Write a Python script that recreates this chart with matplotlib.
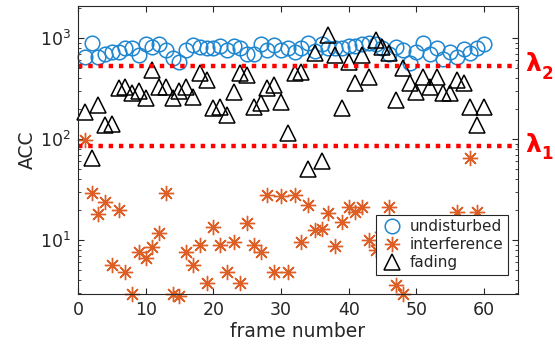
import numpy as np
import matplotlib
matplotlib.use("Agg")
import matplotlib.pyplot as plt

frames = list(range(1, 61))

undisturbed = [650, 890, 650, 700, 720, 730, 790, 800, 680, 880,
               820, 880, 760, 640, 580, 760, 850, 820, 800, 800,
               830, 760, 830, 790, 700, 690, 880, 760, 850, 760,
               800, 730, 800, 900, 740, 880, 800, 800, 790, 830,
               830, 870, 900, 880, 790, 700, 810, 760, 560, 720,
               900, 700, 800, 620, 720, 650, 780, 710, 800, 880]

interference = [97, 29, 18, 24, 5.6, 20, 4.8, 2.9, 7.6, 6.6,
                8.5, 11.7, 29, 2.9, 2.8, 7.6, 5.6, 8.9, 3.8, 13.5,
                8.9, 4.8, 9.6, 3.8, 14.7, 8.9, 7.6, 28, 4.8, 27,
                4.8, 28, 9.6, 22, 12.6, 13, 18.5, 8.7, 15, 21,
                19, 21, 10, 8, 12, 21, 3.6, 2.9, 10, 7,
                12, 9, 6, 11, 8, 19, 10, 65, 19, 8]

fading = [185, 65, 217, 138, 142, 320, 330, 285, 300, 255,
          482, 330, 330, 255, 300, 330, 260, 450, 384, 203,
          207, 172, 292, 450, 430, 207, 227, 320, 340, 232,
          115, 450, 460, 50, 710, 60, 1070, 680, 203, 580,
          358, 680, 410, 955, 815, 710, 243, 505, 358, 292,
          410, 330, 410, 285, 285, 384, 358, 207, 138, 207]

lambda1 = 85
lambda2 = 530

txt = '#262626'
plt.rcParams['font.family'] = 'DejaVu Sans'

fig = plt.figure(figsize=(5.55, 3.48), dpi=100)
ax = fig.add_axes([0.1405, 0.155, 0.7925, 0.828])

ax.plot(frames, undisturbed, linestyle='none', marker='o', ms=10.5,
        mfc='none', mec='#1f86d0', mew=1.1, label='undisturbed', clip_on=False)
ax.plot(frames, interference, linestyle='none', marker=(8, 2, 0), ms=11,
        mec='#DE5F26', mew=1.0, label='interference', clip_on=False)
ax.plot(frames, fading, linestyle='none', marker='^', ms=11.5,
        mfc='none', mec='black', mew=1.1, label='fading', clip_on=False)

ax.axhline(lambda2, color='red', ls=(0, (1, 1.3)), lw=3.2)
ax.axhline(lambda1, color='red', ls=(0, (1, 1.3)), lw=3.2)

ax.set_yscale('log')
ax.set_xlim(0, 65)
ax.set_ylim(2.92, 2075)
ax.set_xticks([0, 10, 20, 30, 40, 50, 60])
ax.tick_params(which='both', direction='in', top=True, right=True,
               colors=txt, labelsize=12.5, pad=5)
ax.tick_params(which='major', length=4)
ax.tick_params(which='minor', length=2.5)
for s in ax.spines.values():
    s.set_color(txt)
    s.set_linewidth(0.8)

ax.set_xlabel('frame number', fontsize=13.5, color=txt, labelpad=2)
ax.set_ylabel('ACC', fontsize=13.5, color=txt, labelpad=2)

# lambda labels on the right side
for val, sub in [(lambda2, '2'), (lambda1, '1')]:
    ax.annotate('λ', xy=(1.0, val), xycoords=('axes fraction', 'data'),
                xytext=(5, 1), textcoords='offset points', color='red',
                fontsize=18, fontweight='bold', va='center', ha='left',
                annotation_clip=False)
    ax.annotate(sub, xy=(1.0, val), xycoords=('axes fraction', 'data'),
                xytext=(17, -6), textcoords='offset points', color='red',
                fontsize=12, fontweight='bold', va='center', ha='left',
                annotation_clip=False)

leg = ax.legend(loc='lower right', bbox_to_anchor=(0.995, 0.04), fontsize=11,
                fancybox=False, framealpha=1, edgecolor=txt, borderpad=0.3,
                handletextpad=0.4, labelspacing=0.2, handlelength=1.5)
leg.get_frame().set_linewidth(0.8)
for t in leg.get_texts():
    t.set_color(txt)

fig.savefig('out.png', dpi=100)
